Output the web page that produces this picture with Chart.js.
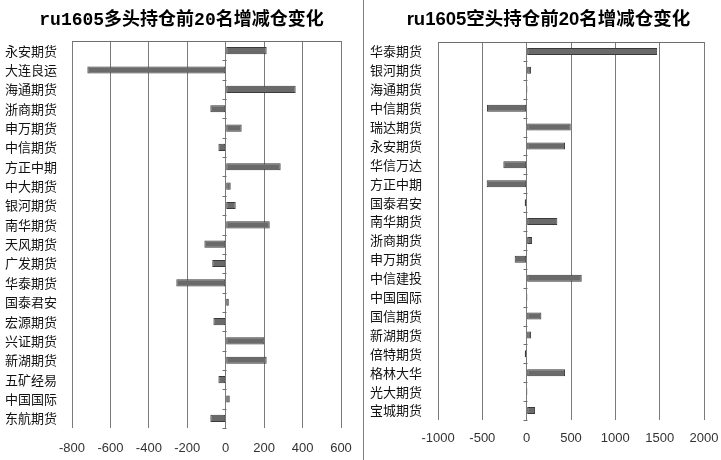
<!DOCTYPE html>
<html>
<head>
<meta charset="utf-8">
<script src="https://cdn.jsdelivr.net/npm/chart.js@4.4.1/dist/chart.umd.min.js"></script>
<style>
  body { margin: 0; background: #fff; }
  #wrap { position: relative; width: 721px; height: 460px; overflow: hidden; }
  .panel { position: absolute; top: 0; height: 460px; }
  #p1 { left: 0; width: 363px; }
  #p2 { left: 363px; width: 357px; border-left: 1px solid #7f7f7f; }
  .title { position: absolute; top: 4px; left: 0; right: 0; text-align: center;
           font-weight: bold; color: #000; white-space: nowrap; }
  #t1 { font-size: 18px; font-family: "Liberation Mono", "Noto Sans CJK SC", monospace; }
  #t2 { left: 12px; font-size: 18.5px; font-family: "Liberation Sans", "Noto Sans CJK SC", sans-serif; }
</style>
</head>
<body>
<div id="wrap">
  <div class="panel" id="p1">
    <canvas id="c1" width="363" height="460"></canvas>
    <div class="title" id="t1">ru1605多头持仓前20名增减仓变化</div>
  </div>
  <div class="panel" id="p2">
    <canvas id="c2" width="357" height="460"></canvas>
    <div class="title" id="t2">ru1605空头持仓前20名增减仓变化</div>
  </div>
</div>
<script>
// 多头持仓前20名 增减仓
const longNames = ['永安期货', '大连良运', '海通期货', '浙商期货', '申万期货', '中信期货', '方正中期',
    '中大期货', '银河期货', '南华期货', '天风期货', '广发期货', '华泰期货', '国泰君安',
    '宏源期货', '兴证期货', '新湖期货', '五矿经易', '中国国际', '东航期货'];
const longChange = [213, -720, 364, -80, 83, -38, 286, 26, 52, 229, -111, -70, -257, 16,
    -64, 201, 213, -38, 21, -80];

// 空头持仓前20名 增减仓
const shortNames = ['华泰期货', '银河期货', '海通期货', '中信期货', '瑞达期货', '永安期货', '华信万达',
    '方正中期', '国泰君安', '南华期货', '浙商期货', '申万期货', '中信建投', '中国国际',
    '国信期货', '新湖期货', '倍特期货', '格林大华', '光大期货', '宝城期货'];
const shortChange = [1472, 50, 10, -447, 497, 433, -263, -451, -22, 346, 61, -135, 621, 10,
    166, 50, -22, 433, 10, 95];

// 坐标轴范围
const longAxis = { min: -800, max: 600, step: 200 };
const shortAxis = { min: -1000, max: 2000, step: 500 };

// 顶边线 + 零轴上的小刻度
const framePlugin = {
    id: 'frame',
    afterDatasetsDraw(chart) {
        const { ctx, chartArea, scales } = chart;
        const x0 = Math.round(scales.x.getPixelForValue(0)) + 0.5;
        const yS = scales.y;
        const n = yS.ticks.length;
        const half = (yS.getPixelForValue(1) - yS.getPixelForValue(0)) / 2;
        ctx.save();
        ctx.strokeStyle = '#6e6e6e';
        ctx.lineWidth = 1;
        ctx.beginPath();
        ctx.moveTo(chartArea.left, chartArea.top + 0.5);
        ctx.lineTo(chartArea.right, chartArea.top + 0.5);
        for (let i = 0; i <= n; i++) {
            const y = Math.round(yS.getPixelForValue(i) - half) + 0.5;
            ctx.moveTo(x0 - 4, y);
            ctx.lineTo(x0, y);
        }
        ctx.stroke();
        ctx.restore();
    }
};

function makeChart(id, names, values, axis, box) {
    new Chart(document.getElementById(id), {
        type: 'bar',
        data: {
            labels: names,
            datasets: [{
                data: values,
                backgroundColor: '#6a6a6a',
                borderColor: '#3a3a3a',
                borderWidth: 1,
                borderSkipped: false,
                barPercentage: 0.37,
                categoryPercentage: 1
            }]
        },
        options: {
            indexAxis: 'y',
            responsive: false,
            animation: false,
            layout: { padding: { top: box.top, right: box.right, left: 0, bottom: 0 } },
            plugins: { legend: { display: false }, tooltip: { enabled: false } },
            scales: {
                x: {
                    min: axis.min,
                    max: axis.max,
                    ticks: {
                        stepSize: axis.step,
                        padding: box.tickPad,
                        color: '#333',
                        font: { family: 'Liberation Sans', size: 13 },
                        callback: v => String(v)
                    },
                    grid: { color: '#7a7a7a', drawTicks: false },
                    border: { display: false },
                    afterFit: s => {
                        s.height = box.xHeight;
                        s.paddingLeft = 0;
                        s.paddingRight = 0;
                    }
                },
                y: {
                    ticks: {
                        padding: box.labelPad,
                        color: '#111',
                        font: { family: 'Noto Sans CJK SC', size: 13 }
                    },
                    grid: { display: false, drawTicks: false },
                    border: { display: false },
                    afterFit: s => { s.width = box.yWidth; }
                }
            }
        },
        plugins: [framePlugin]
    });
}

makeChart('c1', longNames, longChange, longAxis,
    { top: 41, right: 22, xHeight: 32, yWidth: 72, tickPad: 13, labelPad: 15 });
makeChart('c2', shortNames, shortChange, shortAxis,
    { top: 42, right: 17, xHeight: 40, yWidth: 74, tickPad: 11, labelPad: 16 });
</script>
</body>
</html>
